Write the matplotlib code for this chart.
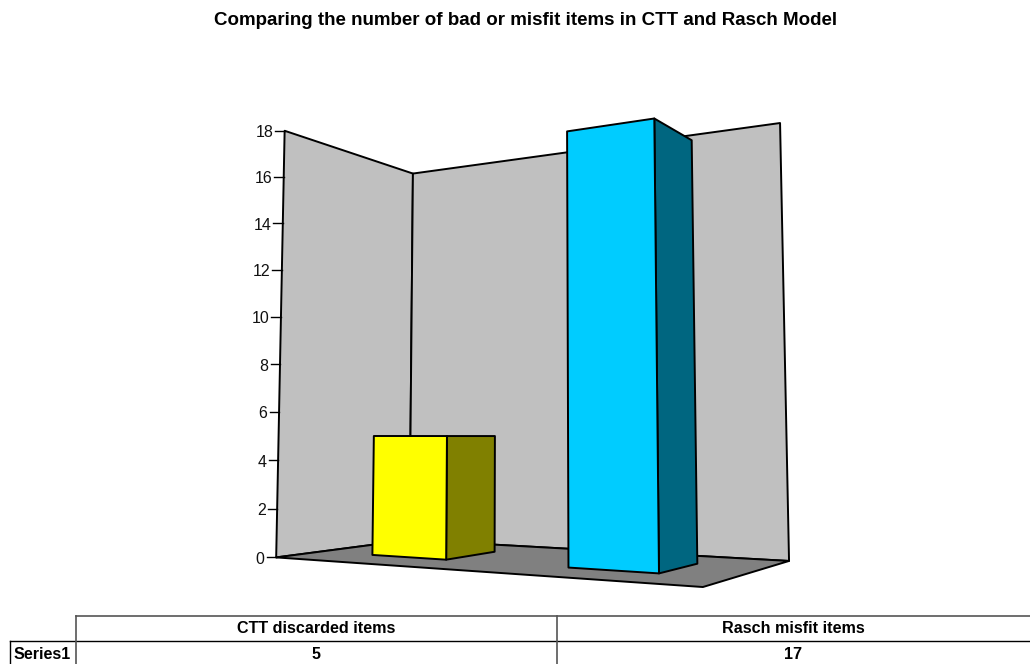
"""Bar chart with a 3D perspective box and a data table underneath."""
import matplotlib
matplotlib.use("Agg")
import matplotlib.pyplot as plt
import numpy as np
from matplotlib.patches import Polygon

plt.rcParams["font.family"] = ["Liberation Sans", "DejaVu Sans"]

TITLE = "Comparing the number of bad or misfit items in CTT and Rasch Model"
categories = ["CTT discarded items", "Rasch misfit items"]
series_name = "Series1"
values = [5, 17]
tick_values = [0, 2, 4, 6, 8, 10, 12, 14, 16, 18]

BAR_CENTERS = [0.25, 0.75]
BAR_HALF_WIDTH = 0.1
BAR_DEPTH = (0.3, 0.7)

# box corners (x, depth, value) and where they land on the canvas, for the camera fit
BOX_WORLD = [(0, 0, 0), (0, 1, 0), (1, 1, 0), (1, 0, 0), (0, 0, 18), (0, 1, 18), (1, 1, 18),
             (0, 0, 4), (0, 0, 12)]
BOX_CANVAS = [(276, 557.3), (409.5, 540), (789, 561), (703, 587), (284.5, 130.7), (413, 173.5), (780, 123),
              (278.2, 460), (282, 270)]


def fit_camera(world, canvas):
    """Direct linear transform: 3x4 projection matrix from point pairs."""
    rows = []
    for (x, d, v), (px, py) in zip(world, canvas):
        rows.append([x, d, v, 1, 0, 0, 0, 0, -px * x, -px * d, -px * v, -px])
        rows.append([0, 0, 0, 0, x, d, v, 1, -py * x, -py * d, -py * v, -py])
    _, _, vt = np.linalg.svd(np.array(rows, dtype=float))
    return vt[-1].reshape(3, 4)


CAM = fit_camera(BOX_WORLD, BOX_CANVAS)


def proj(x, d, v):
    p = CAM @ np.array([x, d, v, 1.0])
    return p[0] / p[2], p[1] / p[2]


def face(ax, corners, color, z):
    ax.add_patch(Polygon([proj(*c) for c in corners], closed=True, facecolor=color,
                         edgecolor="black", linewidth=1.4, joinstyle="round", zorder=z))


fig = plt.figure(figsize=(10.3, 6.64), dpi=100)
ax = fig.add_axes([0, 0, 1, 1])
ax.set_xlim(0, 1030)
ax.set_ylim(664, 0)
ax.axis("off")

ax.text(526, 25, TITLE, ha="center", va="baseline", fontsize=13.5, fontweight="bold")

# walls and floor
vmax = tick_values[-1]
face(ax, [(0, 0, 0), (0, 1, 0), (0, 1, vmax), (0, 0, vmax)], "#C0C0C0", 1)
face(ax, [(0, 1, 0), (1, 1, 0), (1, 1, vmax), (0, 1, vmax)], "#C0C0C0", 1)
face(ax, [(0, 0, 0), (1, 0, 0), (1, 1, 0), (0, 1, 0)], "#808080", 2)

# value axis runs up the front edge of the left wall
for tv in tick_values:
    px, py = proj(0, 0, tv)
    ax.plot([px - 9.5, px], [py, py], color="black", lw=1.0, zorder=3)
    ax.text(px - 11.5, py + 0.5, str(tv), ha="right", va="center_baseline", fontsize=11.5, color="#111111")

# bars
bar_colors = [("#FFFF00", "#808000"), ("#00CCFF", "#006680")]
d0, d1 = BAR_DEPTH
for i, (c, val) in enumerate(zip(BAR_CENTERS, values)):
    x0, x1 = c - BAR_HALF_WIDTH, c + BAR_HALF_WIDTH
    front, side = bar_colors[i]
    face(ax, [(x1, d0, 0), (x1, d1, 0), (x1, d1, val), (x1, d0, val)], side, 4 + i)
    face(ax, [(x0, d0, 0), (x1, d0, 0), (x1, d0, val), (x0, d0, val)], front, 4 + i)

# data table, cut off by the bottom of the canvas
TABLE_TOP, TABLE_MID, TABLE_LEFT, TABLE_COL1, TABLE_COL2 = 615.5, 641, 10, 76, 557
line = dict(color="black", lw=1.0, zorder=3)
soft = dict(color="#555555", lw=1.2, zorder=3)
ax.plot([TABLE_COL1, 1030], [TABLE_TOP, TABLE_TOP], **soft)
ax.plot([TABLE_LEFT, 1030], [TABLE_MID, TABLE_MID], **line)
ax.plot([TABLE_LEFT, TABLE_LEFT], [TABLE_MID, 664], **line)
ax.plot([TABLE_COL1, TABLE_COL1], [TABLE_TOP, 664], **soft)
ax.plot([TABLE_COL2, TABLE_COL2], [TABLE_TOP, 664], **soft)

col_centers = [(TABLE_COL1 + TABLE_COL2) / 2, (TABLE_COL2 + 1030) / 2]
for cx, name, val in zip(col_centers, categories, values):
    ax.text(cx, 633, name, ha="center", va="baseline", fontsize=11.6, fontweight="bold")
    ax.text(cx, 659, str(val), ha="center", va="baseline", fontsize=11.6, fontweight="bold")
ax.text(14, 659, series_name, ha="left", va="baseline", fontsize=11.6, fontweight="bold")

fig.savefig("out.png", dpi=100)
